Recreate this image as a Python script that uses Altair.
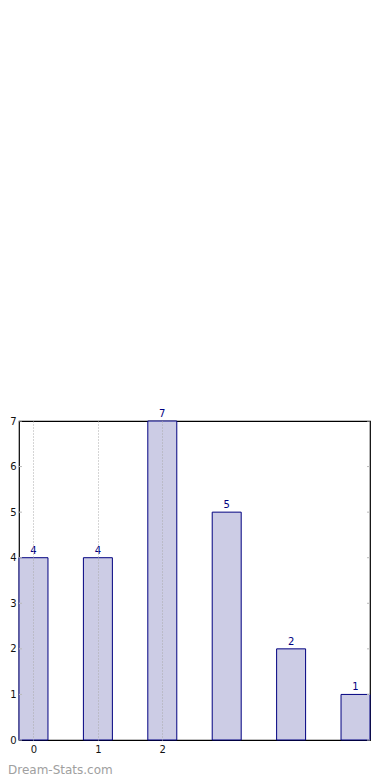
import altair as alt
import pandas as pd

categories = [0, 1, 2, 3, 4, 5]
values = [4, 4, 7, 5, 2, 1]
tick_labels = ["0", "1", "2"]
y_ticks = [0, 1, 2, 3, 4, 5, 6, 7]

BW = 0.45
df = pd.DataFrame({
    "x": categories,
    "x2": [c + BW for c in categories],
    "xc": [c + BW / 2 for c in categories],
    "v": values,
})
ticks_df = pd.DataFrame({"t": y_ticks})

xscale = alt.Scale(domain=[0, 5 + BW], nice=False, zero=False)
yscale = alt.Scale(domain=[0, 7], nice=False)
font = "DejaVu Sans"

xaxis = alt.Axis(
    values=[i + BW / 2 for i in range(len(tick_labels))],
    labelExpr="format(datum.value - 0.225, 'd')",
    grid=True, gridDash=[1, 2], gridColor="#aaaaaa", gridWidth=1,
    tickSize=0, labelPadding=4, domain=False, title=None,
    labelFont=font, labelFontSize=10, labelColor="#111111", zindex=1,
)
yaxis = alt.Axis(
    values=y_ticks, grid=False, tickSize=0, labelPadding=3, domain=False,
    title=None, labelFont=font, labelFontSize=10, labelColor="#111111",
)

bars = alt.Chart(df).mark_bar(fill="#ccccE5", stroke="#000080", strokeWidth=1).encode(
    x=alt.X("x:Q", scale=xscale, axis=xaxis),
    x2="x2:Q",
    y=alt.Y("v:Q", scale=yscale, axis=yaxis),
    y2=alt.datum(0),
)

labels = alt.Chart(df).mark_text(
    font=font, fontSize=10, color="#000080", baseline="bottom", dy=-2
).encode(
    x=alt.X("xc:Q", scale=xscale),
    y=alt.Y("v:Q", scale=yscale),
    text="v:Q",
)

left_ticks = alt.Chart(ticks_df).mark_rule(color="#bbbbbb", strokeWidth=1).encode(
    x=alt.value(0), x2=alt.value(3), y=alt.Y("t:Q", scale=yscale),
)
right_ticks = alt.Chart(ticks_df).mark_rule(color="#bbbbbb", strokeWidth=1).encode(
    x=alt.value(348), x2=alt.value(351), y=alt.Y("t:Q", scale=yscale),
)

watermark = alt.Chart(pd.DataFrame({"w": ["Dream-Stats.com"]})).mark_text(
    font=font, fontSize=12, color="#a0a0a0", align="left", baseline="middle"
).encode(x=alt.value(-11), y=alt.value(349), text="w:N")

chart = alt.layer(bars, left_ticks, right_ticks, labels, watermark).properties(
    width=351, height=319,
    autosize=alt.AutoSizeParams(type="none"),
    padding={"left": 11, "top": 413, "right": 12, "bottom": 40},
).configure_view(stroke="#000000", strokeWidth=1.2)

chart.save("out.html", embed_options={"renderer": "svg", "actions": False})
